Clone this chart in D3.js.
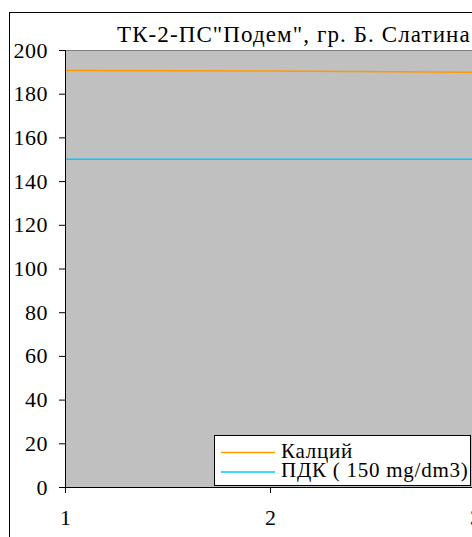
<!DOCTYPE html>
<html><head><meta charset="utf-8">
<script src="https://cdn.jsdelivr.net/npm/d3@7"></script>
<style>body{margin:0;background:#fff}svg{display:block}
svg text{font-family:"Liberation Serif","Times New Roman",serif !important;}</style>
</head><body>
<svg id="c" width="472" height="537"></svg>
<script>
const xCategories = [1, 2, 3];
const calcium = [190.6, 190.4, 189.8];
const pdk = [150, 150, 150];
const yTicks = [0, 20, 40, 60, 80, 100, 120, 140, 160, 180, 200];
const title = 'ТК-2-ПС"Подем", гр. Б. Слатина';
const seriesNames = ['Калций', 'ПДК ( 150 mg/dm3)'];
const seriesColors = ['#FF9900', '#00CCFF'];

(function () {
const svg = d3.select('#c');
const pL = 65, pT = 50, pB = 487, pR = 475;

// outer chart frame
svg.append('rect').attr('x', 9.5).attr('y', 12.5).attr('width', 600).attr('height', 600)
  .attr('fill', '#fff').attr('stroke', '#000').attr('stroke-width', 1);

const x = d3.scaleLinear().domain([1, 3]).range([pL, pR]);
const y = d3.scaleLinear().domain([0, 200]).range([pB, pT]);

// plot area
svg.append('rect').attr('x', pL).attr('y', pT).attr('width', pR - pL + 50).attr('height', pB - pT)
  .attr('fill', '#C0C0C0');
svg.append('line').attr('x1', pL).attr('x2', 472).attr('y1', pT + 0.5).attr('y2', pT + 0.5)
  .attr('stroke', '#808080');

// title
svg.append('text').attr('x', 117).attr('y', 42).attr('text-anchor', 'start')
  .attr('font-size', 23).attr('letter-spacing', 1.1).text(title);

// lines
const line = d3.line().x((d, i) => x(xCategories[i])).y(d => y(d));
[calcium, pdk].forEach((s, k) => {
  svg.append('path').datum(s).attr('d', line).attr('fill', 'none')
    .attr('stroke', seriesColors[k]).attr('stroke-width', 1.5);
});

// axes
const yAxis = d3.axisLeft(y).tickValues(yTicks).tickSize(6).tickPadding(11);
const gy = svg.append('g').attr('transform', `translate(${pL},0)`).call(yAxis);
const xAxis = d3.axisBottom(x).tickValues(xCategories).tickFormat(d3.format('d')).tickSize(6).tickPadding(16);
const gx = svg.append('g').attr('transform', `translate(0,${pB})`).call(xAxis);
[gy, gx].forEach(g => {
  g.attr('font-size', 22);
  g.select('.domain').attr('stroke', '#000');
  g.selectAll('.tick line').attr('stroke', '#000');
  g.selectAll('text').attr('font-size', 22).attr('fill', '#000');
});
gy.selectAll('text').attr('letter-spacing', 0.5);
gx.select('.domain').attr('d', `M${pL},0.5H${pR}`);
gy.select('.domain').attr('d', `M0.5,${pT}V${pB}`);

// legend
const lg = svg.append('g').attr('transform', 'translate(214.5,435.5)');
lg.append('rect').attr('width', 256).attr('height', 50).attr('fill', '#fff').attr('stroke', '#000');
seriesNames.forEach((n, i) => {
  const yy = 17 + i * 19.5;
  lg.append('line').attr('x1', 6.5).attr('x2', 60.5).attr('y1', yy).attr('y2', yy)
    .attr('stroke', seriesColors[i]).attr('stroke-width', 1.5);
  lg.append('text').attr('x', 66.5).attr('y', yy + 5).attr('font-size', 21)
    .attr('letter-spacing', 0.75).text(n);
});
})();
</script>
</body></html>
